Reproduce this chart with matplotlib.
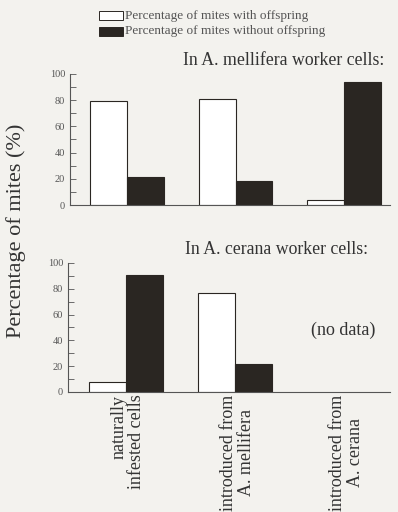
import numpy as np
import matplotlib.pyplot as plt

plt.rcParams['font.family'] = ['Liberation Serif', 'DejaVu Serif']

categories = ["naturally\ninfested cells", "introduced from\nA. mellifera", "introduced from\nA. cerana"]
mell_with = [79, 81, 4]
mell_without = [21, 18, 94]
cer_with = [8, 77]
cer_without = [91, 22]

bg = '#f3f2ee'
ink = '#2a2622'
fig = plt.figure(figsize=(3.98, 5.12), dpi=100, facecolor=bg)

w = 0.34
x = np.arange(3)


def style(ax):
    ax.set_facecolor(bg)
    ax.set_xlim(-0.525, 2.424)
    ax.set_ylim(0, 100)
    ax.spines['top'].set_visible(False)
    ax.spines['right'].set_visible(False)
    for s in ('left', 'bottom'):
        ax.spines[s].set_color('#555')
        ax.spines[s].set_linewidth(0.8)
    ax.set_yticks([0, 20, 40, 60, 80, 100])
    ax.set_yticks(np.arange(10, 100, 20), minor=True)
    ax.tick_params(axis='y', which='both', direction='in', length=4, width=0.6,
                   colors='#555', labelsize=7.5, labelcolor='#555')
    ax.set_xticks([])


ax1 = fig.add_axes([0.176, 0.5996, 0.804, 0.2559])
style(ax1)
ax1.bar(x - w / 2, mell_with, w, color='white', edgecolor=ink, linewidth=0.8)
ax1.bar(x + w / 2, mell_without, w, color=ink, edgecolor=ink, linewidth=0.8)
ax1.text(2.37, 104, "In A. mellifera worker cells:", ha='right', va='bottom',
         fontsize=12.8, color='#333')

ax2 = fig.add_axes([0.171, 0.2344, 0.809, 0.252])
style(ax2)
ax2.set_xlim(-0.53, 2.42)
ax2.bar(x[:2] - w / 2, cer_with, w, color='white', edgecolor=ink, linewidth=0.8)
ax2.bar(x[:2] + w / 2, cer_without, w, color=ink, edgecolor=ink, linewidth=0.8)
ax2.text(2.22, 104, "In A. cerana worker cells:", ha='right', va='bottom',
         fontsize=12.8, color='#333')
ax2.text(1.99, 48, "(no data)", ha='center', va='center', fontsize=13, color='#333')
for xi, lab, al in zip(x, categories, ['right', 'center', 'center']):
    ax2.text(xi + 0.02, -2, lab, rotation=90, ha='center', va='top', fontsize=13,
             color='#333', multialignment=al, linespacing=1.05)

fig.text(0.04, 0.55, "Percentage of mites (%)", rotation=90, ha='center',
         va='center', fontsize=16, color='#333')

# legend
fig.patches.append(plt.Rectangle((0.248, 0.9619), 0.06, 0.0166, transform=fig.transFigure,
                                 facecolor='white', edgecolor=ink, linewidth=0.7))
fig.patches.append(plt.Rectangle((0.248, 0.9297), 0.06, 0.0166, transform=fig.transFigure,
                                 facecolor=ink, edgecolor=ink, linewidth=0.7))
fig.text(0.314, 0.9697, "Percentage of mites with offspring", fontsize=9.5,
         va='center', color='#555')
fig.text(0.314, 0.9385, "Percentage of mites without offspring", fontsize=9.5,
         va='center', color='#555')

fig.savefig('out.png', dpi=100, facecolor=bg)
